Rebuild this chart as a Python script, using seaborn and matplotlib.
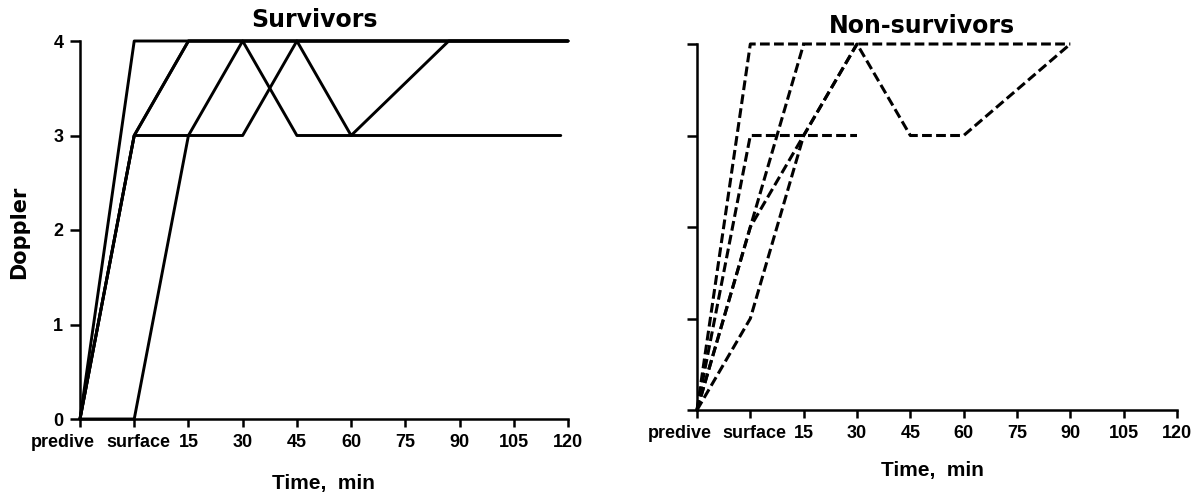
import matplotlib
matplotlib.use("Agg")
import matplotlib.pyplot as plt
import matplotlib.transforms as mtransforms
import pandas as pd
import seaborn as sns

# Time axis: two reference readings, then minutes after surfacing
time_labels = ["predive", "surface", "15", "30", "45", "60", "75", "90", "105", "120"]
doppler_ticks = [0, 1, 2, 3, 4]

# Doppler grade of each diver at each reading ("predive", "surface" or minutes)
surv_times = [
    ["predive", "surface", 120],
    ["predive", "surface", 15, 120],
    ["predive", "surface", 15, 120],
    ["predive", "surface", 15, 30, 45, 118],
    ["predive", "surface", 30, 45, 60, 87, 120],
]
surv_grades = [
    [0, 4, 4],
    [0, 3, 4, 4],
    [0, 3, 4, 4],
    [0, 0, 3, 4, 3, 3],
    [0, 3, 3, 4, 3, 4, 4],
]

nonsurv_times = [
    ["predive", "surface", 90],
    ["predive", "surface", 15, 30, 45, 60, 90],
    ["predive", "surface", 15, 30],
    ["predive", "surface", 30],
    ["predive", "surface", 15],
]
nonsurv_grades = [
    [0, 4, 4],
    [0, 2, 3, 4, 3, 3, 4],
    [0, 1, 3, 4],
    [0, 3, 3],
    [0, 2, 4],
]


def time_position(t):
    """Place readings on the categorical time axis (15 min per step)."""
    if t == "predive":
        return 0.0
    if t == "surface":
        return 1.0
    return 1.0 + t / 15.0


def to_frame(times, grades):
    rows = []
    for subject, (ts, gs) in enumerate(zip(times, grades)):
        for t, g in zip(ts, gs):
            rows.append({"subject": subject, "pos": time_position(t), "grade": g})
    return pd.DataFrame(rows)


sns.set_style("white")
plt.rcParams["font.family"] = ["Liberation Sans", "DejaVu Sans"]
plt.rcParams["font.weight"] = "bold"
plt.rcParams["text.color"] = "black"
plt.rcParams["axes.labelcolor"] = "black"
plt.rcParams["xtick.color"] = "black"
plt.rcParams["ytick.color"] = "black"

fig = plt.figure(figsize=(11.98, 5.0), dpi=100)
ax1 = fig.add_axes([80 / 1198, 81 / 500, 488 / 1198, 378 / 500])
ax2 = fig.add_axes([697 / 1198, 90 / 500, 480 / 1198, 366 / 500])

sns.lineplot(data=to_frame(surv_times, surv_grades), x="pos", y="grade",
             units="subject", estimator=None, sort=False, color="black",
             linewidth=2.1, clip_on=False, legend=False, ax=ax1)
sns.lineplot(data=to_frame(nonsurv_times, nonsurv_grades), x="pos", y="grade",
             units="subject", estimator=None, sort=False, color="black",
             linewidth=2.2, linestyle=(0, (3.2, 1.4)), clip_on=False,
             legend=False, ax=ax2)

title_font = dict(family="DejaVu Sans", fontsize=17, fontweight="bold",
                  color="black")

for ax, show_y in ((ax1, True), (ax2, False)):
    ax.set_xlim(0, 9)
    ax.set_ylim(0, 4)
    ax.set_xticks(range(len(time_labels)))
    ax.set_xticklabels(time_labels, fontsize=13, fontweight="bold")
    ax.set_yticks(doppler_ticks)
    if show_y:
        ax.set_yticklabels([str(v) for v in doppler_ticks], fontsize=13,
                           fontweight="bold")
    else:
        ax.set_yticklabels([])
    sns.despine(ax=ax)
    for side in ("left", "bottom"):
        ax.spines[side].set_linewidth(1.8)
        ax.spines[side].set_color("black")
    ax.tick_params(axis="y", left=True, direction="out", length=7, width=1.8,
                   pad=5, color="black", labelcolor="black")
    ax.tick_params(axis="x", bottom=True, direction="out", length=5.5,
                   width=1.8, pad=5, color="black", labelcolor="black")
    ax.set_facecolor("white")
    # nudge the first two category labels the way they are typeset
    labels = ax.get_xticklabels()
    labels[0].set_transform(labels[0].get_transform() +
                            mtransforms.ScaledTranslation(-0.17, 0, fig.dpi_scale_trans))
    labels[1].set_transform(labels[1].get_transform() +
                            mtransforms.ScaledTranslation(0.04, 0, fig.dpi_scale_trans))

ax1.set_title("Survivors", x=0.48, y=1.037, pad=0, va="baseline", **title_font)
ax2.set_title("Non-survivors", x=0.468, y=1.030, pad=0, va="baseline", **title_font)

ax1.set_xlabel("Time,  min", fontsize=15, fontweight="bold", va="center",
               color="black")
ax1.xaxis.set_label_coords(0.498, -0.17)
ax2.set_xlabel("Time,  min", fontsize=15, fontweight="bold", va="center",
               color="black")
ax2.xaxis.set_label_coords(0.49, -0.164)

ax1.set_ylabel("Doppler", family="DejaVu Sans", fontsize=15, fontweight="bold",
               va="center", color="black")
ax1.yaxis.set_label_coords(-0.125, 0.495)
ax2.set_ylabel("")

fig.savefig("out.png", dpi=100, facecolor="white")
